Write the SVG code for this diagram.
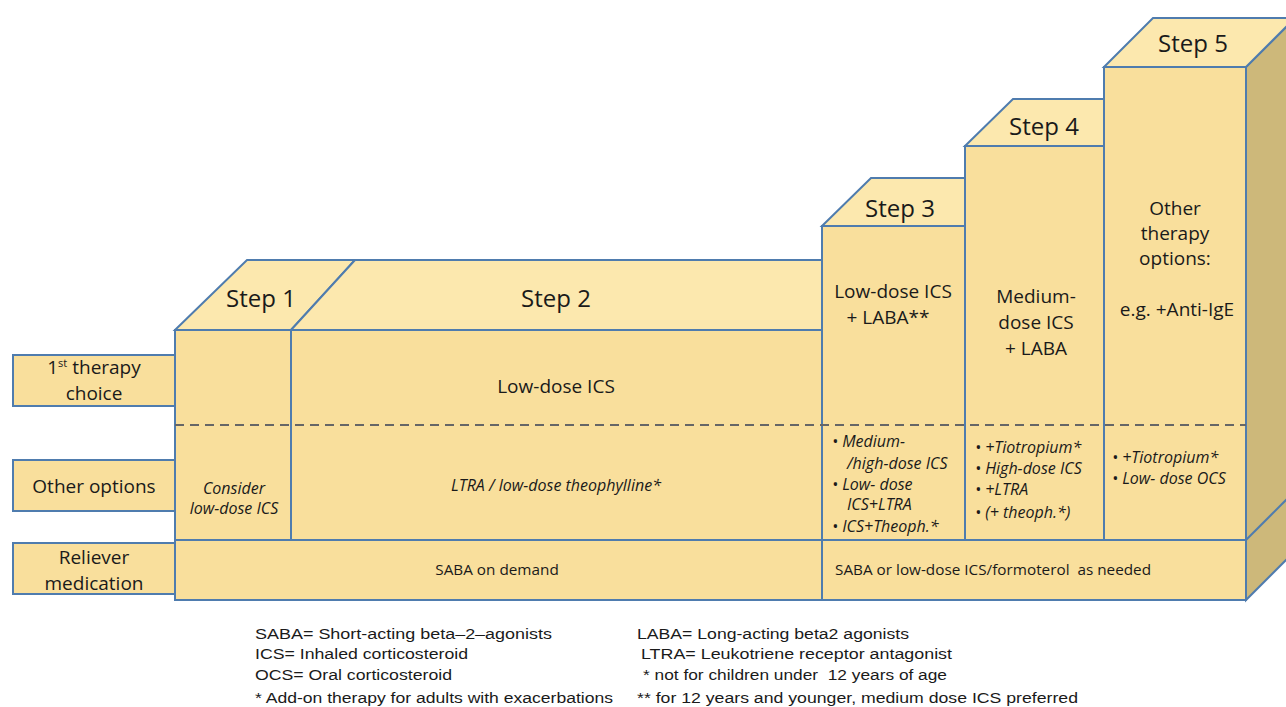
<svg xmlns="http://www.w3.org/2000/svg" width="1286" height="707" viewBox="0 0 1286 707">
<style>
.front{fill:#F9DF9C;stroke:#4F7CAE;stroke-width:2}
.top{fill:#FCE8AE;stroke:#4F7CAE;stroke-width:2}
.side{fill:#CDB87A;stroke:#4F7CAE;stroke-width:2}
.lbl{fill:#F9DF9C;stroke:#4F7CAE;stroke-width:2}
.sep{stroke:#4F7CAE;stroke-width:2;fill:none}
.dash{stroke:#666666;stroke-width:2;stroke-dasharray:9,6;fill:none}
text{font-family:"Open Sans","Noto Sans",sans-serif;fill:#1a1a1a}
.step{font-size:24px;text-anchor:middle}
.m{font-size:19px;text-anchor:middle}
.it{font-size:16px;font-style:italic}
.itc{font-size:16px;font-style:italic;text-anchor:middle}
.sm{font-size:15.3px}
.smc{font-size:15.3px;text-anchor:middle}
.leg{font-family:"Liberation Sans",Arial,sans-serif;font-size:15.5px}
</style>
<g id="left-labels">
<g id="label-first"><rect class="lbl" x="13" y="355" width="162" height="51"/><text class="m" x="94" y="374">1<tspan font-size="11" dy="-7">st</tspan><tspan dy="7"> therapy</tspan></text><text class="m" x="94" y="400">choice</text></g>
<g id="label-other"><rect class="lbl" x="13" y="460" width="162" height="51"/><text class="m" x="94" y="493">Other options</text></g>
<g id="label-reliever"><rect class="lbl" x="13" y="543" width="162" height="51"/><text class="m" x="94" y="564">Reliever</text><text class="m" x="94" y="590">medication</text></g>
</g>
<g id="side-face">
<polygon class="side" points="1246,67 1290,23 1290,556 1246,600"/>
<line class="sep" x1="1246" y1="540" x2="1290" y2="496"/>
</g>
<g id="step1">
<polygon class="top" points="175,330 247,260 355,260 291,330"/>
<rect class="front" x="175" y="330" width="116" height="210"/>
<text class="step" x="261" y="307">Step 1</text>
<text class="itc" x="234" y="494">Consider</text>
<text class="itc" x="234" y="514">low-dose ICS</text>
</g>
<g id="step2">
<polygon class="top" points="355,260 822,260 822,330 291,330"/>
<rect class="front" x="291" y="330" width="531" height="210"/>
<text class="step" x="556" y="307">Step 2</text>
<text class="m" x="556" y="393">Low-dose ICS</text>
<text class="itc" x="556" y="491">LTRA / low-dose theophylline*</text>
</g>
<g id="step3">
<polygon class="top" points="822,226 871,178 965,178 965,226"/>
<rect class="front" x="822" y="226" width="143" height="314"/>
<text class="step" x="900" y="217">Step 3</text>
<text class="m" x="893" y="298">Low-dose ICS</text>
<text class="m" x="888" y="324">+ LABA**</text>
<text class="it" x="832" y="447">•  Medium-</text>
<text class="it" x="847" y="469">/high-dose ICS</text>
<text class="it" x="832" y="490">•  Low- dose</text>
<text class="it" x="847" y="510">ICS+LTRA</text>
<text class="it" x="832" y="532">•  ICS+Theoph.*</text>
</g>
<g id="step4">
<polygon class="top" points="965,146 1013,99 1104,99 1104,146"/>
<rect class="front" x="965" y="146" width="139" height="394"/>
<text class="step" x="1044" y="135">Step 4</text>
<text class="m" x="1036" y="303">Medium-</text>
<text class="m" x="1036" y="329">dose ICS</text>
<text class="m" x="1036" y="355">+ LABA</text>
<text class="it" x="975" y="453">•  +Tiotropium*</text>
<text class="it" x="975" y="474">•  High-dose ICS</text>
<text class="it" x="975" y="495">•  +LTRA</text>
<text class="it" x="975" y="518">•  (+ theoph.*)</text>
</g>
<g id="step5">
<polygon class="top" points="1104,67 1153,18 1290,18 1290,23 1246,67"/>
<rect class="front" x="1104" y="67" width="142" height="473"/>
<text class="step" x="1193" y="52">Step 5</text>
<text class="m" x="1175" y="215">Other</text>
<text class="m" x="1175" y="240">therapy</text>
<text class="m" x="1175" y="265">options:</text>
<text class="m" x="1177" y="316">e.g. +Anti-IgE</text>
<text class="it" x="1112" y="463">•  +Tiotropium*</text>
<text class="it" x="1112" y="484">•  Low- dose OCS</text>
</g>
<g id="reliever">
<rect class="front" x="175" y="540" width="1071" height="60"/>
<text class="smc" x="497" y="575">SABA on demand</text>
<text class="sm" x="835" y="575" xml:space="preserve">SABA or low-dose ICS/formoterol  as needed</text>
</g>
<g id="connectors">
<line class="sep" x1="822" y1="540" x2="822" y2="600"/>
<line class="dash" x1="175" y1="425" x2="1246" y2="425"/>
</g>
<g id="legend">
<text class="leg" x="255" y="639" textLength="297" lengthAdjust="spacingAndGlyphs">SABA= Short-acting beta–2–agonists</text>
<text class="leg" x="255" y="659" textLength="213" lengthAdjust="spacingAndGlyphs">ICS= Inhaled corticosteroid</text>
<text class="leg" x="255" y="680" textLength="197" lengthAdjust="spacingAndGlyphs">OCS= Oral corticosteroid</text>
<text class="leg" x="255" y="703" textLength="358" lengthAdjust="spacingAndGlyphs">* Add-on therapy for adults with exacerbations</text>
<text class="leg" x="637" y="639" textLength="272" lengthAdjust="spacingAndGlyphs">LABA= Long-acting beta2 agonists</text>
<text class="leg" x="641" y="659" textLength="311" lengthAdjust="spacingAndGlyphs">LTRA= Leukotriene receptor antagonist</text>
<text class="leg" x="643" y="680" textLength="304" lengthAdjust="spacingAndGlyphs" xml:space="preserve">* not for children under  12 years of age</text>
<text class="leg" x="637" y="703" textLength="441" lengthAdjust="spacingAndGlyphs">** for 12 years and younger, medium dose ICS preferred</text>
</g>
</svg>
